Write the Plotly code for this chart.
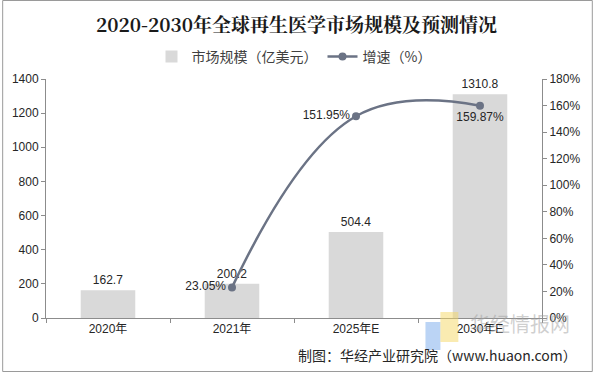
import plotly.graph_objects as go

categories = ["2020年", "2021年", "2025年E", "2030年E"]
market_size = [162.7, 200.2, 504.4, 1310.8]
growth_cats = ["2021年", "2025年E", "2030年E"]
growth = [0.2305, 1.5195, 1.5987]
growth_labels = ["23.05%", "151.95%", "159.87%"]
growth_pos = ["middle left", "middle left", "bottom center"]

FONT = "Liberation Sans, Arial, Noto Sans CJK SC"
W, H = 593, 372
L, R, T, B = 44, 51, 79, 54
PW, PH = W - L - R, H - T - B


def px(x):
    return (x - L) / PW


def py(y):
    return (H - B - y) / PH


fig = go.Figure()
fig.add_trace(go.Bar(
    x=categories, y=market_size, name="市场规模（亿美元）",
    marker=dict(color="#d9d9d9", line=dict(width=0)),
    text=[f"{v:g}" for v in market_size], textposition="outside",
    textfont=dict(size=12, color="#262626", family=FONT),
    cliponaxis=False,
))
fig.add_trace(go.Scatter(
    x=growth_cats, y=growth, name="增速（%）", yaxis="y2",
    mode="lines+markers+text",
    line=dict(color="#6b7385", width=2.5, shape="spline", smoothing=1.2),
    marker=dict(color="#6b7385", size=8),
    text=growth_labels, textposition=growth_pos,
    textfont=dict(size=12, color="#262626", family=FONT),
    cliponaxis=False,
))

fig.update_layout(
    width=W, height=H,
    margin=dict(l=L, r=R, t=T, b=B),
    paper_bgcolor="white", plot_bgcolor="white",
    font=dict(family=FONT, size=12, color="#262626"),
    title=dict(text="<b>2020-2030年全球再生医学市场规模及预测情况</b>",
               x=0.5, xanchor="center", y=1 - 25 / H, yanchor="middle",
               font=dict(size=19, color="#1a1a1a", family="Noto Serif CJK SC, Noto Sans CJK SC")),
    legend=dict(orientation="h", x=0.5, xanchor="center", y=py(57), yanchor="middle",
                font=dict(size=14, color="#404040", family="Noto Sans CJK SC"),
                bgcolor="rgba(0,0,0,0)", itemwidth=30, traceorder="normal"),
    bargap=0.56,
    showlegend=True,
    xaxis=dict(type="category", showline=True, linecolor="#8c8c8c", linewidth=1,
               ticks="outside", tickson="boundaries", ticklen=4, tickcolor="#8c8c8c",
               tickfont=dict(size=12, color="#262626"), showgrid=False),
    yaxis=dict(range=[0, 1400], dtick=200, showline=True, linecolor="#8c8c8c", linewidth=1,
               ticks="outside", ticklen=4, tickcolor="#8c8c8c", showgrid=False, zeroline=False,
               tickfont=dict(size=12, color="#262626")),
    yaxis2=dict(range=[0, 1.8], dtick=0.2, tickformat=".0%", overlaying="y", side="right",
                showline=True, linecolor="#8c8c8c", linewidth=1, ticks="outside", ticklen=4,
                tickcolor="#8c8c8c", showgrid=False, zeroline=False,
                tickfont=dict(size=12, color="#262626")),
)

# watermark logo blocks
fig.add_shape(type="rect", xref="paper", yref="paper", x0=px(425), x1=px(440), y0=py(350), y1=py(322),
              line=dict(width=0), fillcolor="rgba(120,170,235,0.5)", layer="above")
fig.add_shape(type="rect", xref="paper", yref="paper", x0=px(440), x1=px(458), y0=py(342), y1=py(312),
              line=dict(width=0), fillcolor="rgba(245,215,100,0.5)", layer="above")
fig.add_annotation(text="华经情报网", x=px(520), y=py(323), xref="paper", yref="paper",
                   xanchor="center", yanchor="middle", showarrow=False,
                   font=dict(size=20, color="rgba(160,160,160,0.5)", family="Noto Sans CJK SC"))
fig.add_annotation(text="制图：华经产业研究院（www.huaon.com）", x=px(579), y=py(355),
                   xref="paper", yref="paper", xanchor="right", yanchor="middle",
                   showarrow=False, font=dict(size=14, color="#262626", family="Noto Sans CJK SC"))
fig.add_shape(type="rect", xref="paper", yref="paper",
              x0=px(0.5), x1=px(W - 0.5), y0=py(H - 0.5), y1=py(0.5),
              line=dict(color="#9a9a9a", width=1))

fig.write_html("out.html", config={"displayModeBar": False},
               post_script="document.body.style.margin='0';")
